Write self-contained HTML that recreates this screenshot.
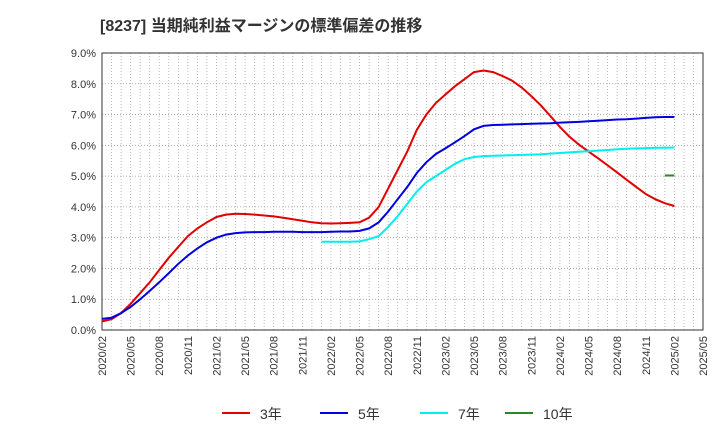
<!DOCTYPE html>
<html><head><meta charset="utf-8"><style>
body{margin:0;background:#fff;font-family:"Liberation Sans","Noto Sans CJK JP",sans-serif}
</style></head><body>
<svg id="c" width="720" height="440" xmlns="http://www.w3.org/2000/svg">
<text x="100" y="31" font-size="16" font-weight="bold" fill="#333" font-family="Liberation Sans, Noto Sans CJK JP, sans-serif">[8237] 当期純利益マージンの標準偏差の推移</text>
<g id="grid"></g><g id="axes"></g><g id="series"></g><g id="legend"></g>
</svg>
<script>
const months = 64;
const tickLabels = ["2020/02","2020/05","2020/08","2020/11","2021/02","2021/05","2021/08","2021/11","2022/02","2022/05","2022/08","2022/11","2023/02","2023/05","2023/08","2023/11","2024/02","2024/05","2024/08","2024/11","2025/02","2025/05"];
const yTicks = [0,1,2,3,4,5,6,7,8,9];
const red = [0.28,0.35,0.55,0.85,1.2,1.55,1.95,2.35,2.7,3.05,3.3,3.5,3.67,3.75,3.78,3.77,3.75,3.72,3.69,3.65,3.6,3.55,3.5,3.47,3.46,3.47,3.48,3.5,3.65,4.0,4.6,5.2,5.8,6.5,7.0,7.38,7.65,7.92,8.15,8.38,8.43,8.38,8.25,8.1,7.88,7.6,7.3,6.95,6.6,6.28,6.02,5.8,5.58,5.35,5.12,4.88,4.65,4.42,4.25,4.12,4.03];
const blue = [0.36,0.4,0.55,0.75,1.0,1.27,1.55,1.85,2.15,2.42,2.65,2.85,3.0,3.1,3.15,3.17,3.18,3.18,3.19,3.19,3.19,3.18,3.18,3.18,3.19,3.2,3.2,3.22,3.3,3.5,3.85,4.25,4.65,5.1,5.45,5.72,5.9,6.1,6.3,6.52,6.63,6.66,6.67,6.68,6.69,6.7,6.71,6.72,6.74,6.75,6.76,6.78,6.8,6.82,6.84,6.85,6.87,6.89,6.91,6.92,6.92];
const cyanStart = 23;
const cyan = [2.87,2.87,2.87,2.87,2.88,2.95,3.05,3.35,3.7,4.1,4.5,4.8,5.0,5.2,5.4,5.55,5.62,5.65,5.66,5.67,5.68,5.69,5.7,5.71,5.73,5.75,5.77,5.79,5.81,5.83,5.85,5.87,5.89,5.9,5.91,5.92,5.92,5.93];
const greenStart = 59;
const green = [5.02,5.02];
const X0=102,X1=703,Y0=330,Y1=53;
const xs=m=>X0+(X1-X0)*m/(months-1);
const ys=v=>Y0-(Y0-Y1)*v/9;
const NS="http://www.w3.org/2000/svg";
function mk(p,t,a){const e=document.createElementNS(NS,t);for(const k in a)e.setAttribute(k,a[k]);document.getElementById(p).appendChild(e);return e;}
for(let m=0;m<months;m++){const l=mk('grid','line',{x1:xs(m),x2:xs(m),y1:Y1,y2:Y0,stroke:'#aaa','stroke-dasharray':'1,2','stroke-width':0.8});

}
yTicks.forEach(v=>{const l=mk('grid','line',{x1:X0,x2:X1,y1:ys(v),y2:ys(v),stroke:'#999','stroke-dasharray':'1,2','stroke-width':0.8});


const t=mk('axes','text',{x:X0-6,y:ys(v)+4,'text-anchor':'end','font-size':11,fill:'#333'});t.textContent=v.toFixed(1)+'%';

});
const fr=mk('axes','rect',{x:X0,y:Y1,width:X1-X0,height:Y0-Y1,fill:'none',stroke:'#333','stroke-width':1});


tickLabels.forEach((s,i)=>{const x=xs(i*3);const t=mk('axes','text',{x:0,y:0,transform:`translate(${x+4},${Y0+6}) rotate(-90)`,'text-anchor':'end','font-size':11,fill:'#333'});t.textContent=s;

});
function line(arr,start,color,name){const d=arr.map((v,i)=>(i?'L':'M')+xs(start+i).toFixed(1)+','+ys(v).toFixed(1)).join('');
const p=mk('series','path',{d:d,fill:'none',stroke:color,'stroke-width':2});

}
line(red,0,'#e00000','line-3y');
line(blue,0,'#0000e0','line-5y');
line(cyan,cyanStart,'#00eeee','line-7y');
line(green,greenStart,'#228b22','line-10y');
[['3年','#e00000',222],['5年','#0000e0',320],['7年','#00eeee',420],['10年','#228b22',505]].forEach(([n,c,x])=>{
const l=mk('legend','line',{x1:x,x2:x+28,y1:413,y2:413,stroke:c,'stroke-width':2});


const t=mk('legend','text',{x:x+38,y:419,'font-size':14,fill:'#333'});t.textContent=n;

});
</script>
</body></html>
